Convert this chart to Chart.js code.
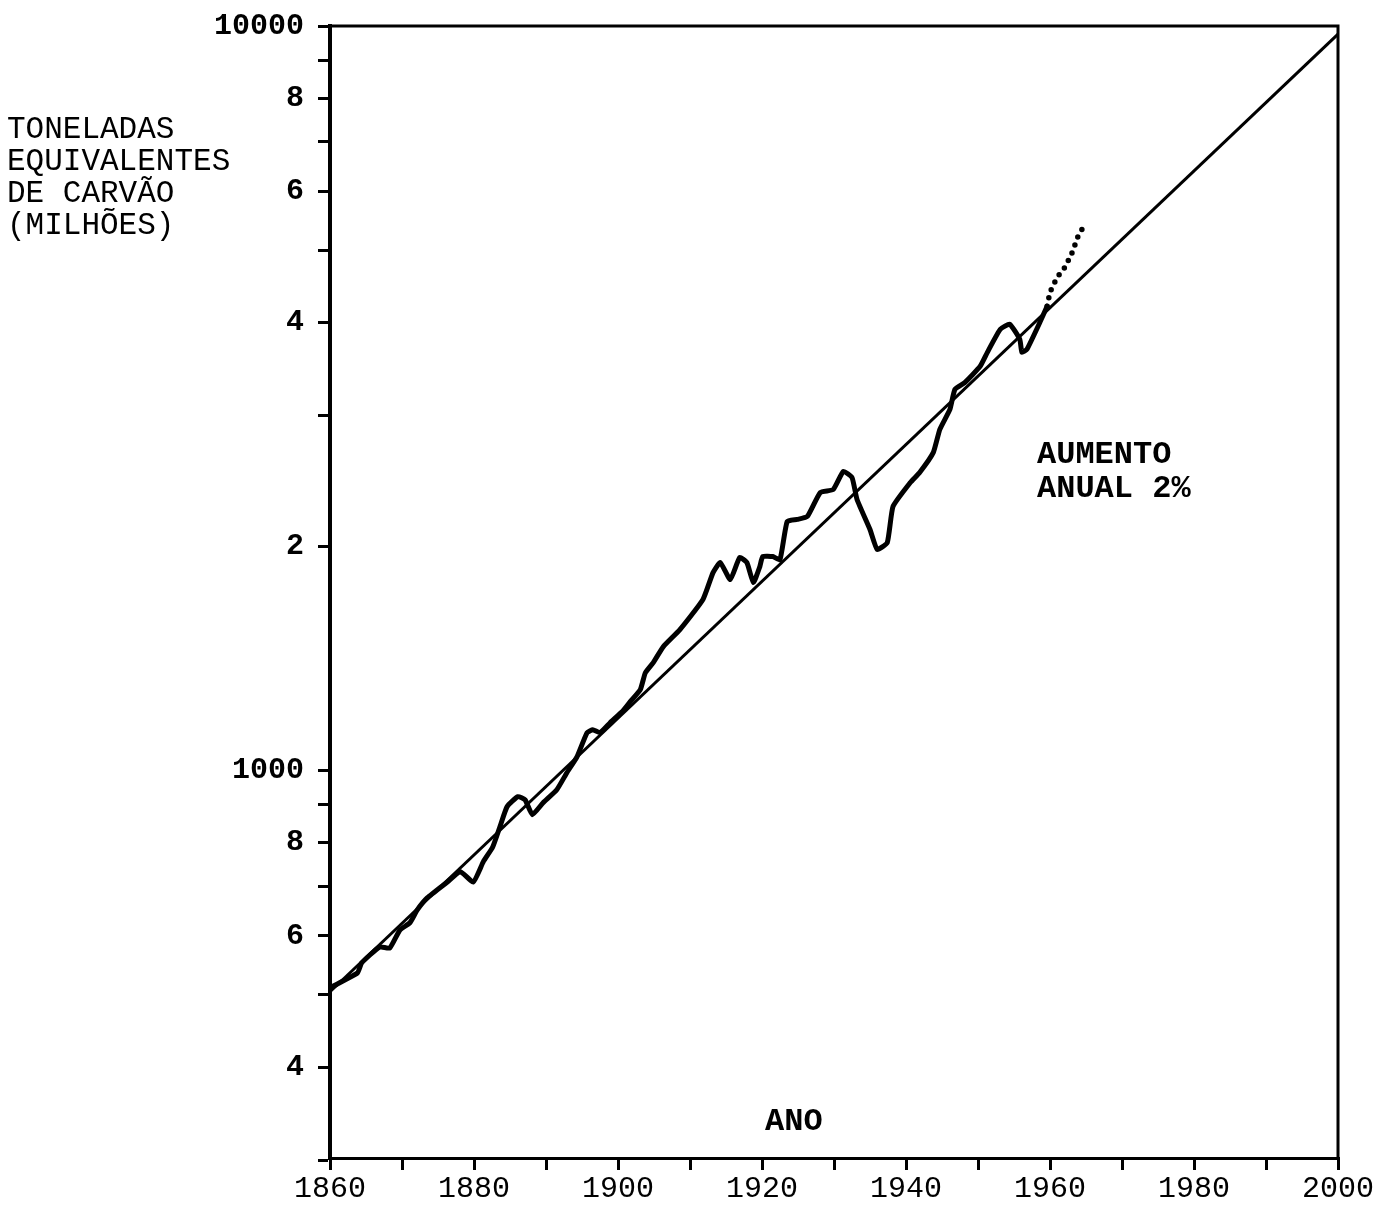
<!DOCTYPE html>
<html>
<head>
<meta charset="utf-8">
<script src="https://cdn.jsdelivr.net/npm/chart.js@4/dist/chart.umd.min.js"></script>
<style>
html,body{margin:0;padding:0;background:#fff;}
canvas{display:block;}
</style>
</head>
<body>
<canvas id="c" width="1394" height="1205"></canvas>
<script>
// ---- data ----
const obsYears = [1860.3,1863.8,1864.4,1866.9,1868.3,1869.7,1871.1,1872.1,1873.5,1876.3,1878.1,1879.9,1881.3,1882.6,1883.6,1884.6,1886.1,1887.1,1888.1,1889.6,1891.5,1892.9,1894.3,1895.7,1896.5,1897.5,1898.9,1900.7,1901.7,1903.1,1903.8,1904.9,1906.3,1908.6,1911.8,1913.2,1914.2,1915.6,1916.9,1917.9,1918.8,1919.7,1920.1,1921.5,1922.5,1923.5,1924.9,1926.3,1928.1,1929.9,1931.3,1932.5,1933.2,1935.0,1936.0,1937.4,1938.2,1940.6,1941.9,1943.8,1944.7,1946.1,1946.8,1948.2,1950.3,1951.3,1953.1,1954.4,1955.8,1956.1,1956.8,1958.6,1959.6];
const obsValues = [513,535,552,580,578,611,625,650,675,709,732,709,755,790,841,895,923,914,873,906,943,994,1044,1125,1135,1125,1160,1204,1238,1285,1354,1397,1468,1547,1698,1845,1904,1806,1933,1904,1789,1880,1939,1939,1921,2161,2175,2195,2364,2386,2523,2476,2313,2108,1982,2025,2264,2438,2515,2676,2873,3056,3252,3323,3492,3646,3915,3977,3796,3646,3681,4001,4205];
const projYears = [1959.6,1960.0,1961.0,1962.1,1963.1,1963.9,1964.7];
const projValues = [4205,4391,4599,4745,4969,5222,5386];
const trendYears = [1860,2000];
const trendValues = [505,9750];

const yTickValues = [300,400,500,600,700,800,900,1000,2000,3000,4000,5000,6000,7000,8000,9000,10000];
const yTickLabels = {10000:'10000',8000:'8',6000:'6',4000:'4',2000:'2',1000:'1000',800:'8',600:'6',400:'4'};
const xTickValues = [1860,1870,1880,1890,1900,1910,1920,1930,1940,1950,1960,1970,1980,1990,2000];
const xLabelledYears = [1860,1880,1900,1920,1940,1960,1980,2000];

const yTitleLines = ['TONELADAS','EQUIVALENTES','DE CARVÃO','(MILHÕES)'];
const growthLines = ['AUMENTO','ANUAL 2%'];
const xTitle = 'ANO';

const toPts = (xs, ys) => xs.map((x, i) => ({x: x, y: ys[i]}));

const frame = {
  id: 'frame',
  afterDatasetsDraw(chart) {
    const {ctx, chartArea: a} = chart;
    ctx.save();
    ctx.strokeStyle = '#000';
    ctx.lineWidth = 3;
    ctx.beginPath();
    ctx.moveTo(a.left, a.top);
    ctx.lineTo(a.right, a.top);
    ctx.lineTo(a.right, a.bottom);
    ctx.stroke();
    ctx.restore();
  },
  afterDraw(chart) {
    const {ctx} = chart;
    ctx.save();
    ctx.fillStyle = '#000';
    ctx.textAlign = 'left';
    ctx.textBaseline = 'alphabetic';
    ctx.font = '31px "Liberation Mono", monospace';
    const base = [138, 170, 202, 234];
    yTitleLines.forEach((t, i) => ctx.fillText(t, 7, base[i]));
    ctx.font = 'bold 32px "Liberation Mono", monospace';
    ctx.fillText(growthLines[0], 1037, 463);
    ctx.fillText(growthLines[1], 1037, 497);
    ctx.fillText(xTitle, 765, 1130);
    ctx.restore();
  }
};

new Chart(document.getElementById('c'), {
  type: 'line',
  data: {
    datasets: [
      {
        label: 'trend',
        data: toPts(trendYears, trendValues),
        borderColor: '#000',
        borderWidth: 3,
        pointRadius: 0,
        tension: 0
      },
      {
        label: 'observed',
        data: toPts(obsYears, obsValues),
        borderColor: '#000',
        borderWidth: 5,
        borderJoinStyle: 'round',
        borderCapStyle: 'round',
        pointRadius: 0,
        tension: 0.15
      },
      {
        label: 'projected',
        data: toPts(projYears, projValues),
        borderColor: '#000',
        borderWidth: 5.5,
        borderCapStyle: 'round',
        borderDash: [0, 8.5],
        pointRadius: 0,
        tension: 0
      }
    ]
  },
  options: {
    responsive: false,
    animation: false,
    devicePixelRatio: 1,
    layout: {padding: {top: 26, right: 56, bottom: 0, left: 0}},
    plugins: {legend: {display: false}, tooltip: {enabled: false}},
    scales: {
      x: {
        type: 'linear',
        min: 1860,
        max: 2000,
        afterFit(s) { s.height = 47; },
        afterBuildTicks(s) { s.ticks = xTickValues.map(v => ({value: v})); },
        ticks: {
          autoSkip: false,
          maxRotation: 0,
          padding: 1,
          color: '#000',
          font: {family: '"Liberation Mono", monospace', size: 30},
          callback: v => xLabelledYears.includes(v) ? String(v) : ''
        },
        grid: {drawOnChartArea: false, drawTicks: true, tickLength: 12, color: '#000', lineWidth: 3},
        border: {display: true, color: '#000', width: 3}
      },
      y: {
        type: 'logarithmic',
        min: 302,
        max: 10000,
        afterFit(s) { s.width = 330; },
        afterBuildTicks(s) { s.ticks = yTickValues.map(v => ({value: v})); },
        ticks: {
          autoSkip: false,
          padding: 14,
          color: '#000',
          font: {family: '"Liberation Mono", monospace', size: 30, weight: 'bold', lineHeight: 0.8},
          callback: v => yTickLabels[v] || ''
        },
        grid: {drawOnChartArea: false, drawTicks: true, tickLength: 12, color: '#000', lineWidth: 3},
        border: {display: true, color: '#000', width: 4}
      }
    }
  },
  plugins: [frame]
});
</script>
</body>
</html>
